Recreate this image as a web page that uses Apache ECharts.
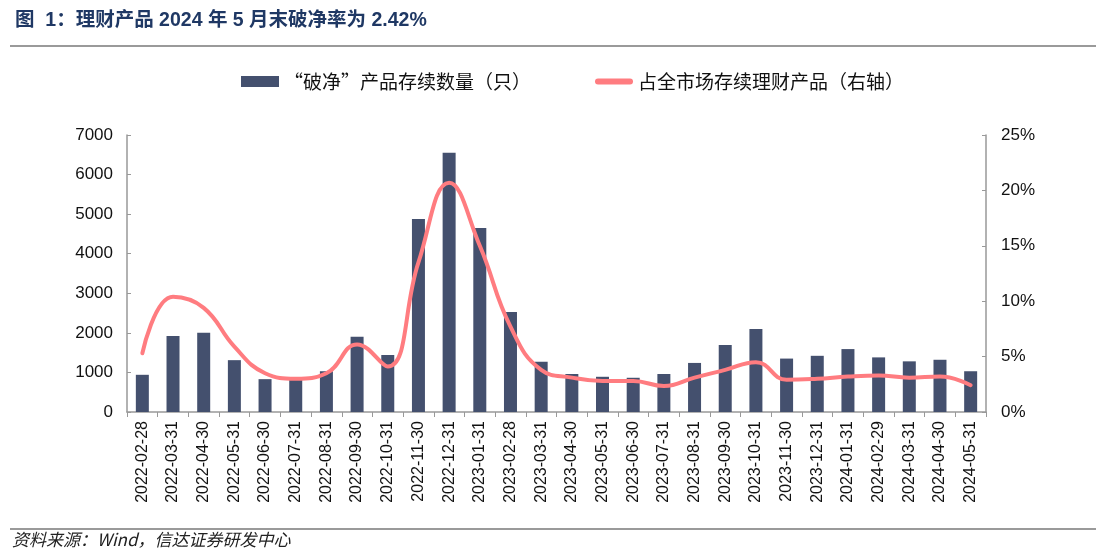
<!DOCTYPE html>
<html>
<head>
<meta charset="utf-8">
<script src="https://cdn.jsdelivr.net/npm/echarts@6/dist/echarts.min.js"></script>
<style>
html,body{margin:0;padding:0;background:#fff;}
#chart{width:1096px;height:551px;}
</style>
</head>
<body>
<div id="chart"></div>
<script>
const categories = ['2022-02-28','2022-03-31','2022-04-30','2022-05-31','2022-06-30','2022-07-31','2022-08-31','2022-09-30','2022-10-31','2022-11-30','2022-12-31','2023-01-31','2023-02-28','2023-03-31','2023-04-30','2023-05-31','2023-06-30','2023-07-31','2023-08-31','2023-09-30','2023-10-31','2023-11-30','2023-12-31','2024-01-31','2024-02-29','2024-03-31','2024-04-30','2024-05-31'];
const breakCount = [940,1920,2000,1310,830,830,1030,1900,1440,4880,6550,4650,2530,1270,960,890,865,960,1240,1690,2100,1350,1420,1590,1380,1280,1320,1030];
const breakRatio = [5.3,10.4,9.4,5.9,3.5,3.0,3.5,6.1,4.1,13.5,20.7,15.0,7.7,3.8,3.1,2.8,2.8,2.35,3.1,3.8,4.5,2.9,3.0,3.2,3.3,3.1,3.2,2.42];
const leftTicks = {min:0,max:7000,interval:1000};
const rightTicks = {min:0,max:25,interval:5};
const titleText = '图  1：理财产品 2024 年 5 月末破净率为 2.42%';
const sourceText = '资料来源：Wind，信达证券研发中心';
const seriesNames = ['“破净”产品存续数量（只）','占全市场存续理财产品（右轴）'];

const chart = echarts.init(document.getElementById('chart'), null, {renderer:'canvas'});
const axisTxt = {color:'#111', fontFamily:'Arial, "Liberation Sans", sans-serif', fontSize:17};
chart.setOption({
  animation:false,
  backgroundColor:'#fff',
  title:{
    text:titleText, left:10, top:6,
    textStyle:{color:'#1F3864', fontSize:19.5, fontWeight:'bold', fontFamily:'Arial, "Noto Sans CJK SC", sans-serif'}
  },
  graphic:[
    {type:'line', shape:{x1:10,y1:46,x2:1096,y2:46}, style:{stroke:'#9a9a9a', lineWidth:2}},
    {type:'line', shape:{x1:10,y1:529,x2:1096,y2:529}, style:{stroke:'#9a9a9a', lineWidth:2}},
    {type:'text', left:12, top:531, style:{text:sourceText, fill:'#222', fontSize:17, fontStyle:'italic', fontFamily:'"Noto Sans CJK SC", sans-serif'}}
  ],
  legend:{
    top:67, left:236, itemGap:64, itemWidth:38, itemHeight:11,
    textStyle:{color:'#111', fontSize:19, fontFamily:'"Noto Sans CJK SC", sans-serif'},
    data:[
      {name:seriesNames[0], icon:'rect'},
      {name:seriesNames[1], icon:'path://M3,0 H35 A3,3 0 0 1 35,6 H3 A3,3 0 0 1 3,0 Z', itemStyle:{color:'#FF7C80'}}
    ]
  },
  grid:{left:127, right:110, top:135, bottom:139},
  xAxis:{
    type:'category', data:categories, boundaryGap:true,
    axisLine:{lineStyle:{color:'#999', width:1.5}},
    axisTick:{show:true, alignWithLabel:false, length:5, lineStyle:{color:'#999'}},
    axisLabel:{rotate:90, interval:0, fontSize:16, margin:9, color:'#111', fontFamily:'Arial, "Liberation Sans", sans-serif'}
  },
  yAxis:[
    {type:'value', min:leftTicks.min, max:leftTicks.max, interval:leftTicks.interval,
     splitLine:{show:false},
     axisLine:{show:true, lineStyle:{color:'#999', width:1.5}},
     axisTick:{show:true, inside:true, length:4, lineStyle:{color:'#999'}},
     axisLabel:Object.assign({margin:14, formatter:function(v){return String(v);}}, axisTxt)},
    {type:'value', min:rightTicks.min, max:rightTicks.max, interval:rightTicks.interval,
     splitLine:{show:false},
     axisLine:{show:true, lineStyle:{color:'#999', width:1.5}},
     axisTick:{show:true, inside:true, length:4, lineStyle:{color:'#999'}},
     axisLabel:Object.assign({margin:15, formatter:'{value}%'}, axisTxt)}
  ],
  series:[
    {name:seriesNames[0], type:'bar', data:breakCount, barWidth:13, yAxisIndex:0,
     itemStyle:{color:'#44506E'}},
    {name:seriesNames[1], type:'line', data:breakRatio, yAxisIndex:1, smooth:0.45,
     symbol:'none', lineStyle:{color:'#FF7C80', width:4, cap:'round'}, itemStyle:{color:'#FF7C80'}}
  ]
});
</script>
</body>
</html>
